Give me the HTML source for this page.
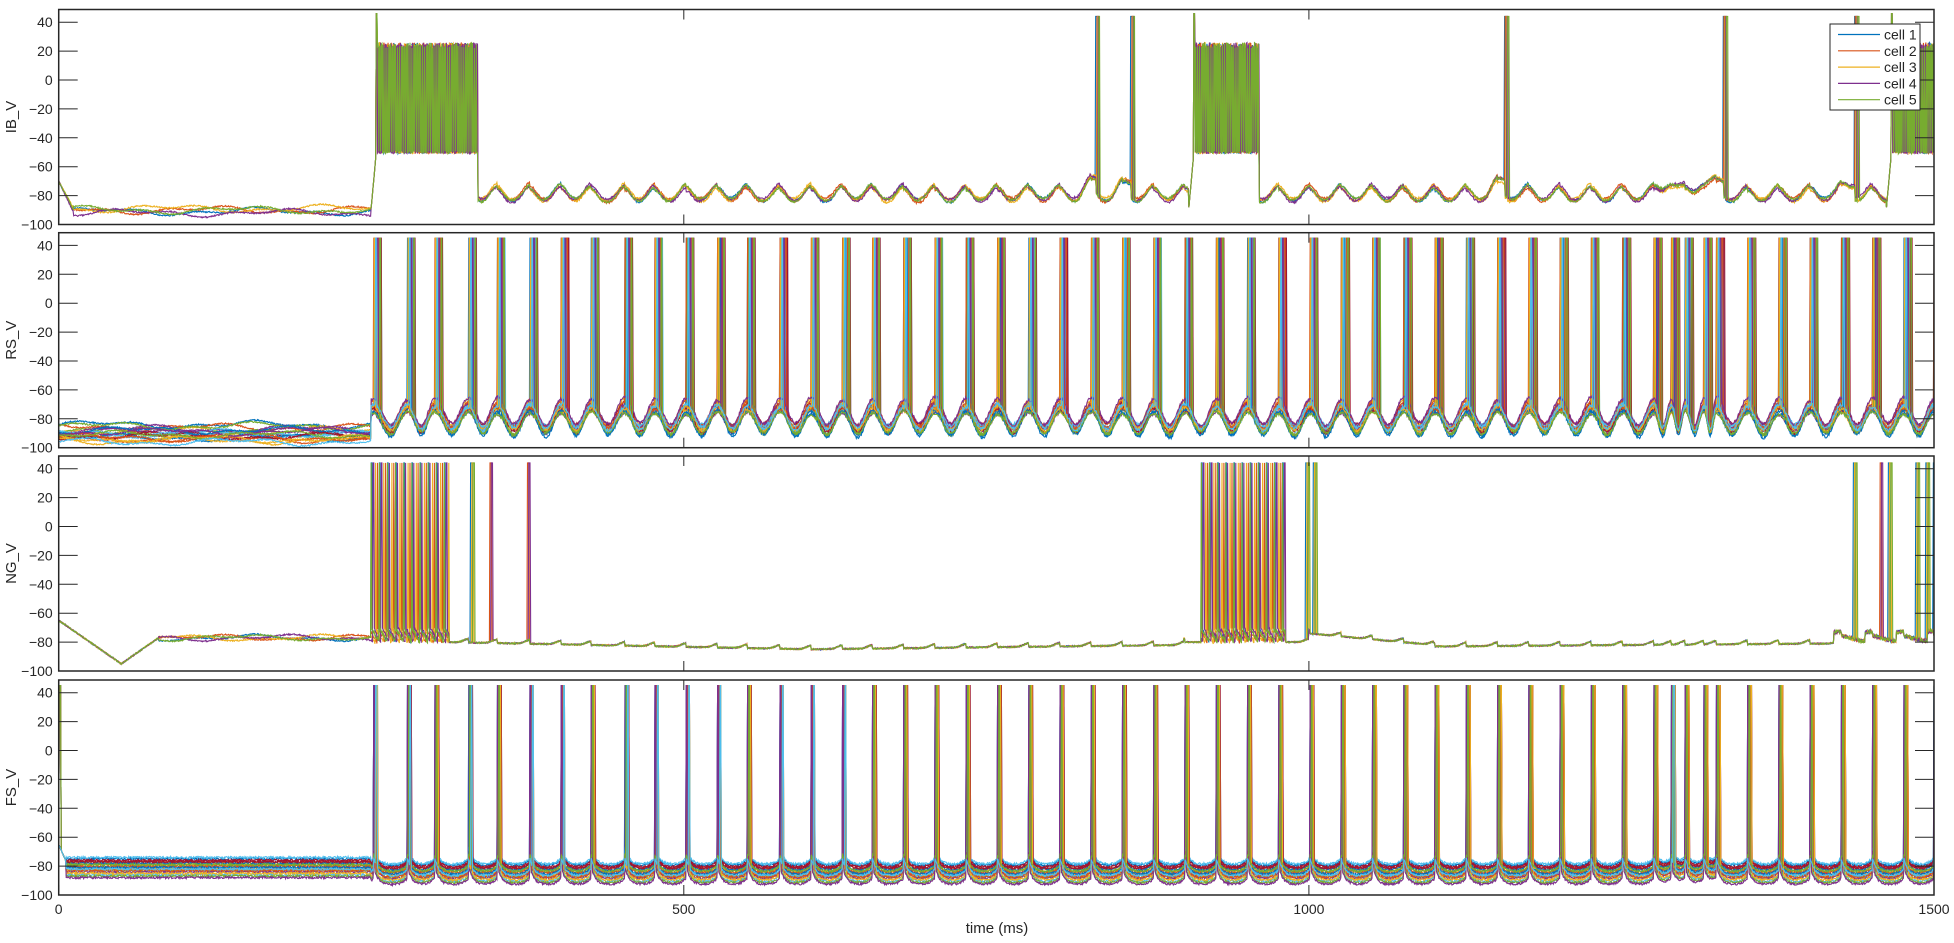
<!DOCTYPE html>
<html><head><meta charset="utf-8"><style>
html,body{margin:0;padding:0;background:#fff;}
svg{display:block;font-family:"Liberation Sans",sans-serif;}
</style></head><body>
<svg id="chart" width="1954" height="943" viewBox="0 0 1954 943"></svg>
<script>
// ---- data ----
const panelNames = ["IB_V","RS_V","NG_V","FS_V"];
const yTicks = [40,20,0,-20,-40,-60,-80,-100];
const xTicks = [0,500,1000,1500];
const xTickLabels = ["0","500","1000","1500"];
const colors = ["#0072BD","#D95319","#EDB120","#7E2F8E","#77AC30","#4DBEEE","#A2142F"];
const legendLabels = ["cell 1","cell 2","cell 3","cell 4","cell 5"];
// gamma rhythm cycle times (ms), from RS/FS spike volleys
const cycleTimes = [252,279,301,328,351,377,402,426,453,477,502,527,551,577,602,627,651,676,701,726,751,776,801,826,851,876,901,926,951,976,1001,1026,1051,1076,1101,1126,1151,1176,1201,1226,1251,1276,1290,1301,1316,1326,1351,1376,1401,1426,1451,1476,1500];
// IB bursts [start,end] and single spikes
const ibBursts = [[250,335],[904,960],[1462,1500]];
const ibSpikes = [830,858,1157,1332,1437];
// IB pre-onset level per cell
const ibRest = [-91,-90,-89,-92,-90];
// RS pre-onset level per cell
const rsRest = [-84,-86,-88,-89,-90,-91,-92,-93,-94,-95,-87,-85,-90,-92,-88,-93,-94,-89,-91,-96];
const rsTrough = [-86,-88,-85,-90,-87,-89,-84,-91,-86,-88,-87,-90,-85,-89,-92,-86,-88,-84,-90,-87];
// FS trough level per cell
const fsTrough = [-80,-82,-84,-86,-88,-91,-81,-83,-85,-87,-89,-92,-79,-82,-86,-88,-90,-93,-84,-87];
// NG burst windows and isolated spikes
const ngBursts = [[250,312],[914,981]];
const ngSpikes = [330,345,375,998,1004,1436,1457,1464,1486,1494,1500];

// ---- geometry ----
const X0=58.7, X1=1934;
const xs = t => X0 + (t/1500)*(X1-X0);
const bottoms=[224.5,447.7,671,895];
const PH=215, SC=1.445;
const ys = (p,v) => bottoms[p] - (Math.max(-100,Math.min(48.5,v))+100)*SC;
const svg=document.getElementById('chart');
const NS="http://www.w3.org/2000/svg";
function mk(tag,attrs,parent){const e=document.createElementNS(NS,tag);for(const k in attrs)e.setAttribute(k,attrs[k]);(parent||svg).appendChild(e);return e;}
function jit(c,t){const s=Math.sin(c*127.1+t*0.173)*43758.5;return (s-Math.floor(s))-0.5;}
function slow(c,t){return 1.8*Math.sin(t*0.05+c*1.7)+1.2*Math.sin(t*0.13+c*2.9);}
function lastCycle(t){let l=-1;for(const ct of cycleTimes){if(ct<=t)l=ct;else break;}return l;}
function nextCycle(t){for(const ct of cycleTimes){if(ct>t)return ct;}return 1525;}
function inWin(w,t){for(const b of w)if(t>=b[0]&&t<=b[1])return b;return null;}

function ibV(c,t){
  if(t<250){ if(t<12) return ibRest[c]+ (-70-ibRest[c])*(1-t/12)+jit(c,t); return ibRest[c]+slow(c,t)+jit(c,t); }
  const b=inWin(ibBursts,t);
  if(b){ if(t-b[0]<4) return -88+(38)*(t-b[0])/4; if(t-b[0]<5) return 46; return ((Math.floor(t*1.4+c)%2)?(24+4*jit(c,t*3)):-50+2*jit(c,t)); }
  for(const s of ibSpikes){ if(Math.abs(t-(s+c*0.6))<0.6) return 44; }
  const l=lastCycle(t), n=nextCycle(t);
  let v=-84+slow(c,t)*0.6;
  const dn=n-t, dl=t-l;
  v+=11*Math.exp(-dn*dn/60)+9*Math.exp(-dl*dl/40);
  for(const s of ibSpikes){const d=s-t; if(d>0&&d<15) v+=10*(1-d/15);}
  return v+jit(c,t)*1.5;
}
function rsV(c,t){
  if(t<250) return rsRest[c]+slow(c,t)+jit(c,t);
  const l=lastCycle(t), n=nextCycle(t), per=n-l;
  const off=(c*2.3)%6;
  if(Math.abs(t-(l+off))<0.6 && (c+l)%7!==0) return 45;
  const p=(t-l)/per;
  let v=rsTrough[c]+(14+ (c%3)*2)*(Math.pow(Math.cos(Math.PI*p),2));
  return v+jit(c,t)*2+slow(c,t)*0.5;
}
function ngV(c,t){
  if(t<50) return -65-30*(t/50)+jit(c,t);
  if(t<80) return -95+18*((t-50)/30)+jit(c,t);
  if(t<250) return -77+0.8*slow(c,t)+jit(c,t);
  const b=inWin(ngBursts,t);
  if(b){ const k=Math.floor((t-b[0]+c*1.7)/6.5); if(Math.abs((t-b[0]+c*1.7)-k*6.5)<0.6) return 44; return -70-10*(((t-b[0]+c*1.7)%6.5)/6.5)+jit(c,t)*3; }
  for(const s of ngSpikes){ if(Math.abs(t-(s+c*0.5))<0.6 && (c+s)%2===0) return 44; }
  let v;
  if(t<600) v=-80-5*((t-312)/288);
  else if(t<900) v=-85+3*((t-600)/300);
  else if(t<1000) v=-80;
  else if(t<1100) v=-74-8*((t-1000)/100);
  else if(t<1420) v=-83+2*((t-1100)/320);
  else v=-74-6*(((t-1420)%25)/25)+jit(c,t)*1.5;
  const n=nextCycle(t); const dn=n-t;
  return v+2.5*Math.exp(-dn*dn/30)+jit(c,t)*1;
}
function fsV(c,t){
  if(t<6) return (Math.abs(t-(1+c%3))<0.6 && c%3===0)?45:-65-12*t/6;
  if(t<250) return fsTrough[c]+5+jit(c,t)*1.5;
  const l=lastCycle(t);
  const off=(c*0.9)%3;
  if(Math.abs(t-(l+off))<0.6 && (c+l)%5!==0) return 45;
  const dl=t-l, n=nextCycle(t), dn=n-t;
  return fsTrough[c]+12*Math.exp(-dl/3.5)+5*Math.exp(-dn/4)+jit(c,t)*1.5;
}
const funcs=[ibV,rsV,ngV,fsV];
const nCells=[5,20,5,20];

// ---- draw panels ----
for(let p=0;p<4;p++){
  const g=mk('g',{});
  
  
  const top=bottoms[p]-PH;
  const clipId='clip'+p;
  const cp=mk('clipPath',{id:clipId},g); mk('rect',{x:X0,y:top,width:X1-X0,height:PH},cp);
  const tg=mk('g',{'clip-path':'url(#'+clipId+')'},g);
  for(let c=0;c<nCells[p];c++){
    let d='';
    for(let t=0;t<=1500;t+=0.5){
      const v=funcs[p](c,t);
      d+=(t===0?'M':'L')+xs(t).toFixed(1)+' '+ys(p,v).toFixed(1);
    }
    const path=mk('path',{d:d,fill:'none',stroke:colors[c%7],'stroke-width':1.1},tg);
    
    
  }
  const box=mk('rect',{x:X0,y:top,width:X1-X0,height:PH,fill:'none',stroke:'#262626','stroke-width':1.5},g);
  
  
  for(const v of yTicks){
    const y=ys(p,v);
    mk('line',{x1:X0,x2:X0+19,y1:y,y2:y,stroke:'#262626','stroke-width':1},g);
    mk('line',{x1:X1-19,x2:X1,y1:y,y2:y,stroke:'#262626','stroke-width':1},g);
    const tx=mk('text',{x:X0-6,y:y+5,'text-anchor':'end','font-size':14,fill:'#262626'},g);
    tx.textContent=(v<0?'\u2212'+(-v):String(v));
    
    
  }
  for(const v of xTicks){
    const x=xs(v);
    mk('line',{x1:x,x2:x,y1:top,y2:top+10,stroke:'#262626','stroke-width':1},g);
    mk('line',{x1:x,x2:x,y1:bottoms[p]-10,y2:bottoms[p],stroke:'#262626','stroke-width':1},g);
  }
  const yl=mk('text',{x:0,y:0,transform:'translate(16,'+(top+PH/2)+') rotate(-90)','text-anchor':'middle','font-size':15,fill:'#262626'},g);
  yl.textContent=panelNames[p];
  
  
}
xTicks.forEach((v,i)=>{
  const t=mk('text',{x:xs(v),y:914,'text-anchor':'middle','font-size':14,fill:'#262626'});
  t.textContent=xTickLabels[i];
  
  
});
const xl=mk('text',{x:997,y:933,'text-anchor':'middle','font-size':15,fill:'#262626'});
xl.textContent='time (ms)';


const lg=mk('g',{});


mk('rect',{x:1830,y:24,width:90,height:86,fill:'#fff',stroke:'#262626','stroke-width':1},lg);
legendLabels.forEach((s,i)=>{
  const y=34.5+i*16.3;
  const e=mk('g',{},lg);
  
  
  mk('line',{x1:1838,x2:1880,y1:y,y2:y,stroke:colors[i],'stroke-width':1.2},e);
  const t=mk('text',{x:1884,y:y+5,'font-size':14,fill:'#262626'},e);
  t.textContent=s;
});
</script>
</body></html>
